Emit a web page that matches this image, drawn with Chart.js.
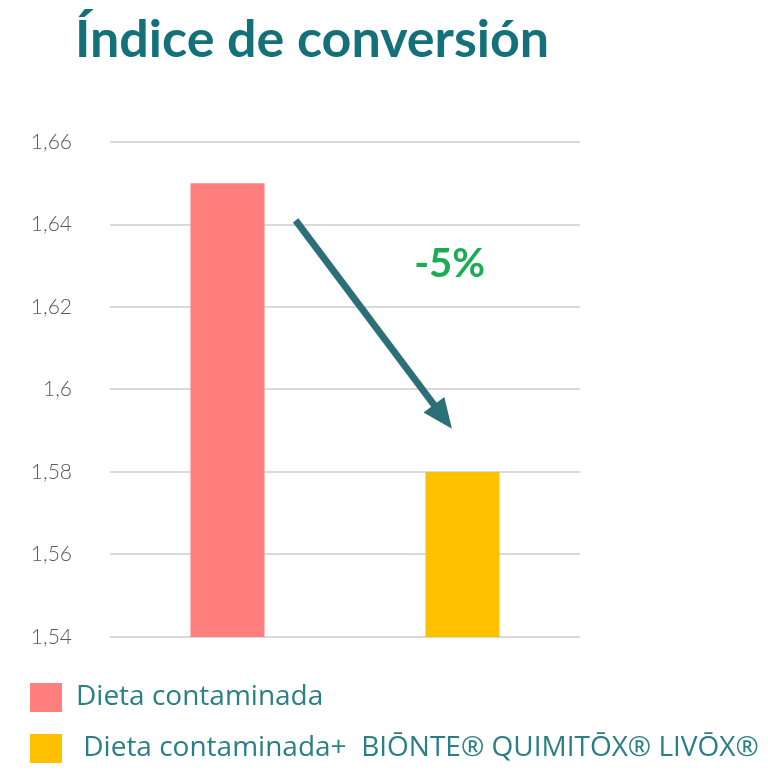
<!DOCTYPE html>
<html>
<head>
<meta charset="utf-8">
<script src="https://cdn.jsdelivr.net/npm/chart.js@4"></script>
<style>
  html, body { margin: 0; padding: 0; background: #fff; }
  #wrap { position: relative; width: 768px; height: 777px; }
  #title { position: absolute; left: 75px; top: 6px; font-family: Lato, sans-serif; font-weight: 700;
           font-size: 52px; color: #147179; white-space: nowrap; }
</style>
</head>
<body>
<div id="wrap">
  <canvas id="bar-chart" width="768" height="777"></canvas>
  <div id="title">Índice de conversión</div>
</div>
<script>
// categories and values
var labels = ["Dieta contaminada", " Dieta contaminada+  BIŌNTE® QUIMITŌX® LIVŌX®"];
var values = [1.65, 1.58];
var colors = ["#ff7f7f", "#ffc000"];
// y axis ticks
var yMin = 1.54, yMax = 1.66, yStep = 0.02;
// arrow annotation, in data units (category index, value)
var arrowFrom = [0.29, 1.641];
var arrowTo = [0.955, 1.5905];
var diffText = "-5%";
var diffAt = [0.945, 1.6305];

var arrowPlugin = {
  id: 'arrow',
  afterDatasetsDraw: function(chart) {
    var c = chart.ctx, x = chart.scales.x, y = chart.scales.y;
    var x1 = x.getPixelForValue(arrowFrom[0]), y1 = y.getPixelForValue(arrowFrom[1]);
    var x2 = x.getPixelForValue(arrowTo[0]), y2 = y.getPixelForValue(arrowTo[1]);
    var a = Math.atan2(y2 - y1, x2 - x1), head = 30, half = 13;
    var bx = x2 - head * Math.cos(a), by = y2 - head * Math.sin(a);
    c.save();
    c.strokeStyle = '#2d6f79';
    c.fillStyle = '#2d6f79';
    c.lineWidth = 7;
    c.beginPath();
    c.moveTo(x1, y1);
    c.lineTo(bx + 6 * Math.cos(a), by + 6 * Math.sin(a));
    c.stroke();
    c.beginPath();
    c.moveTo(x2, y2);
    c.lineTo(bx + half * Math.sin(a), by - half * Math.cos(a));
    c.lineTo(bx - half * Math.sin(a), by + half * Math.cos(a));
    c.closePath();
    c.fill();
    c.font = 'bold 40px Lato, sans-serif';
    c.fillStyle = '#1aad55';
    c.textAlign = 'center';
    c.textBaseline = 'middle';
    c.fillText(diffText, x.getPixelForValue(diffAt[0]), y.getPixelForValue(diffAt[1]));
    c.restore();
  }
};

var ctx = document.getElementById("bar-chart");
var myChart = new Chart(ctx, {
  type: 'bar',
  data: {
    labels: labels,
    datasets: [
      {
        data: values,
        backgroundColor: colors,
        barPercentage: 0.63,
        categoryPercentage: 0.5
      }
    ]
  },
  plugins: [arrowPlugin],
  options: {
    responsive: false,
    animation: false,
    layout: { padding: { top: 142, left: 8, right: 0, bottom: 4 } },
    plugins: {
      tooltip: { enabled: false },
      legend: {
        position: 'bottom',
        align: 'start',
        labels: {
          boxWidth: 32,
          boxHeight: 29,
          padding: 22,
          color: '#2a7f87',
          font: { family: 'Open Sans', size: 28 },
          generateLabels: function(chart) {
            return labels.map(function(l, i) {
              return { text: l, fillStyle: colors[i], strokeStyle: colors[i], lineWidth: 0,
                       fontColor: '#2a7f87', index: i };
            });
          }
        }
      }
    },
    scales: {
      x: {
        display: true,
        afterFit: function(scale) { scale.height = 24; },
        border: { display: false },
        grid: { display: false },
        ticks: { display: false }
      },
      y: {
        min: yMin,
        max: yMax,
        afterFit: function(scale) { scale.width = 102; },
        border: { display: false },
        grid: { color: '#d9d9d9', lineWidth: 2, drawTicks: false },
        ticks: {
          stepSize: yStep,
          padding: 38,
          color: '#595959',
          font: { family: 'Lato', size: 21, weight: '300' },
          callback: function(v) { return String(+v.toFixed(2)).replace('.', ','); }
        }
      },
      right: {
        position: 'right',
        display: true,
        afterFit: function(scale) { scale.width = 188; },
        border: { display: false },
        grid: { display: false },
        ticks: { display: false }
      }
    }
  }
});
</script>
</body>
</html>
